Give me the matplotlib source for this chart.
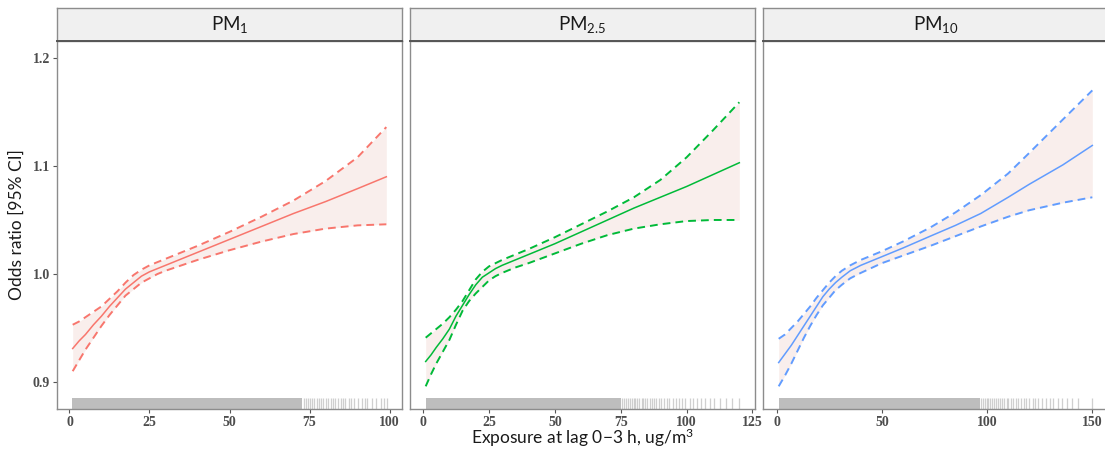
import numpy as np
import matplotlib
matplotlib.use('Agg')
import matplotlib.pyplot as plt

plt.rcParams['mathtext.fontset'] = 'custom'
plt.rcParams['mathtext.rm'] = 'Lato'
plt.rcParams['mathtext.it'] = 'Lato'

# ---- data ----
pm1_x = [1, 3, 5, 7.5, 10, 12.5, 15, 17.5, 20, 22.5, 25, 27.5, 30, 35, 40, 50, 60, 70, 80, 90, 99]
pm1_fit = [0.931, 0.938, 0.944, 0.953, 0.961, 0.970, 0.978, 0.986, 0.992, 0.998, 1.002, 1.005,
           1.008, 1.014, 1.020, 1.032, 1.044, 1.056, 1.067, 1.079, 1.090]
pm1_upper = [0.953, 0.956, 0.960, 0.965, 0.970, 0.977, 0.984, 0.992, 0.999, 1.004, 1.008, 1.011,
             1.014, 1.020, 1.026, 1.039, 1.053, 1.068, 1.086, 1.108, 1.136]
pm1_lower = [0.910, 0.920, 0.930, 0.941, 0.952, 0.962, 0.971, 0.980, 0.986, 0.992, 0.996, 1.000,
             1.003, 1.008, 1.013, 1.022, 1.030, 1.037, 1.042, 1.045, 1.046]

pm25_x = [1, 3, 5, 7.5, 10, 12.5, 15, 17.5, 20, 22.5, 25, 27.5, 30, 35, 40, 50, 60, 70, 80, 90,
          100, 110, 120]
pm25_fit = [0.919, 0.925, 0.932, 0.940, 0.949, 0.961, 0.971, 0.981, 0.990, 0.997, 1.001, 1.005,
            1.008, 1.013, 1.018, 1.028, 1.039, 1.050, 1.061, 1.071, 1.081, 1.092, 1.103]
pm25_upper = [0.941, 0.945, 0.949, 0.954, 0.960, 0.967, 0.975, 0.985, 0.995, 1.002, 1.007, 1.010,
              1.013, 1.018, 1.023, 1.034, 1.046, 1.058, 1.071, 1.087, 1.108, 1.133, 1.159]
pm25_lower = [0.896, 0.907, 0.917, 0.928, 0.939, 0.953, 0.966, 0.975, 0.982, 0.988, 0.994, 0.998,
              1.001, 1.006, 1.010, 1.019, 1.028, 1.036, 1.042, 1.046, 1.049, 1.050, 1.050]

pm10_x = [1, 4, 7, 10, 13, 16, 19, 22, 25, 28, 31, 35, 40, 50, 60, 73, 85, 97, 110, 120, 136, 150]
pm10_fit = [0.918, 0.926, 0.934, 0.943, 0.952, 0.961, 0.970, 0.979, 0.986, 0.992, 0.997, 1.003,
            1.008, 1.016, 1.024, 1.035, 1.045, 1.056, 1.071, 1.083, 1.101, 1.119]
pm10_upper = [0.940, 0.944, 0.950, 0.956, 0.963, 0.970, 0.978, 0.985, 0.992, 0.998, 1.003, 1.008,
              1.013, 1.021, 1.030, 1.043, 1.057, 1.073, 1.093, 1.112, 1.143, 1.170]
pm10_lower = [0.896, 0.906, 0.917, 0.929, 0.941, 0.952, 0.962, 0.971, 0.978, 0.985, 0.990, 0.996,
              1.001, 1.010, 1.017, 1.026, 1.035, 1.044, 1.053, 1.059, 1.066, 1.071]

# rug: dense stretch of observations + the sparse ones at the top end
pm1_rug_dense = (0.8, 72.8)
pm1_rug_sparse = [73.2, 73.8, 74.5, 75.1, 75.9, 76.4, 77.2, 77.9, 78.5, 79.3, 80.1, 80.8, 81.6,
                  82.4, 83.0, 83.9, 84.7, 85.5, 86.2, 87.4, 88.1, 89.0, 90.2, 91.5, 92.3, 93.1,
                  94.6, 95.8, 97.3, 98.2, 99.3]
pm25_rug_dense = (1.0, 75.0)
pm25_rug_sparse = [75.6, 76.3, 77.0, 77.8, 78.4, 79.1, 79.9, 80.6, 81.2, 82.0, 82.9, 83.5, 84.3,
                   85.1, 86.0, 86.8, 87.7, 88.5, 89.6, 90.4, 91.3, 92.5, 93.4, 94.7, 95.8, 97.0,
                   98.4, 99.5, 101.2, 102.6, 104.0, 105.3, 107.1, 108.9, 110.4, 112.6, 114.8,
                   117.3, 119.8]
pm10_rug_dense = (1.0, 96.5)
pm10_rug_sparse = [97.2, 98.0, 98.9, 99.8, 100.6, 101.5, 102.3, 103.4, 104.2, 105.1, 106.3, 107.0,
                   108.2, 109.4, 110.1, 111.5, 112.3, 113.6, 114.8, 116.0, 117.4, 118.7, 120.1,
                   121.6, 123.0, 124.4, 126.1, 127.9, 129.8, 131.2, 133.5, 135.7, 137.9, 140.2,
                   143.0, 150.0]

titles = [r'$\mathregular{PM_{1}}$', r'$\mathregular{PM_{2.5}}$', r'$\mathregular{PM_{10}}$']
colors = ['#F8766D', '#00BA38', '#619CFF']
xticks = [[0, 25, 50, 75, 100], [0, 25, 50, 75, 100, 125], [0, 50, 100, 150]]
yticks = [0.9, 1.0, 1.1, 1.2]

panels = [
    (pm1_x, pm1_fit, pm1_upper, pm1_lower, pm1_rug_dense, pm1_rug_sparse),
    (pm25_x, pm25_fit, pm25_upper, pm25_lower, pm25_rug_dense, pm25_rug_sparse),
    (pm10_x, pm10_fit, pm10_upper, pm10_lower, pm10_rug_dense, pm10_rug_sparse),
]

W, H = 1105, 457
fig = plt.figure(figsize=(W / 100, H / 100), dpi=100)

lefts = [57, 410, 763]
pw = 345
ax_bottom = (H - 409) / H
ax_h = 368 / H
strip_b = (H - 41) / H
strip_h = 33 / H

for i, (x, fit, up, lo, dense, sparse) in enumerate(panels):
    ax = fig.add_axes([lefts[i] / W, ax_bottom, pw / W, ax_h])
    col = colors[i]
    ax.fill_between(x, lo, up, color='#F9EEEC', lw=0, zorder=1)
    ax.plot(x, fit, color=col, lw=1.1, zorder=3, solid_joinstyle='round')
    ax.plot(x, up, color=col, lw=1.4, ls=(0, (4, 2.6)), zorder=3)
    ax.plot(x, lo, color=col, lw=1.4, ls=(0, (4, 2.6)), zorder=3)

    # rug
    ax.axvspan(dense[0], dense[1], ymin=0, ymax=0.03, color='#BDBDBD', lw=0, zorder=2)
    ax.vlines(sparse, 0, 0.03, transform=ax.get_xaxis_transform(),
              color='#C4C4C4', lw=0.9, alpha=0.8, zorder=2)

    lo_x, hi_x = min(x), max(x)
    span = hi_x - lo_x
    ax.set_xlim(lo_x - 0.05 * span, hi_x + 0.05 * span)
    ax.set_ylim(0.875, 1.2157)
    ax.set_xticks(xticks[i])
    ax.set_xticklabels([str(t) for t in xticks[i]], family='Liberation Serif',
                       fontweight='bold', fontsize=10, color='#4D4D4D')
    if i == 0:
        ax.set_yticks(yticks)
        ax.set_yticklabels(['0.9', '1.0', '1.1', '1.2'], family='Liberation Serif',
                           fontweight='bold', fontsize=10, color='#4D4D4D')
    else:
        ax.set_yticks([])
    ax.tick_params(length=3, width=0.8, color='#555555', pad=2)
    for s in ax.spines.values():
        s.set_color('#8C8C8C')
        s.set_linewidth(1.0)

    # facet strip
    sax = fig.add_axes([lefts[i] / W, strip_b, pw / W, strip_h])
    sax.set_xlim(0, 1)
    sax.set_ylim(0, 1)
    sax.set_xticks([])
    sax.set_yticks([])
    sax.set_facecolor('#F0F0F0')
    for s in sax.spines.values():
        s.set_color('#8C8C8C')
        s.set_linewidth(1.0)
    sax.spines['bottom'].set_color('#555555')
    sax.spines['bottom'].set_linewidth(1.4)
    sax.text(0.5, 0.5, titles[i], ha='center', va='center', fontsize=13.5,
             family='Lato', color='#1A1A1A')

fig.text(17 / W, 1 - 225 / H, 'Odds ratio [95% CI]', rotation=90, ha='center', va='center',
         fontsize=12.5, family='Lato', color='#1A1A1A')
fig.text(583 / W, 1 - 438 / H, r'Exposure at lag 0$-$3 h, ug/m$^{\mathregular{3}}$', ha='center',
         va='center', fontsize=12.5, family='Lato', color='#1A1A1A')

fig.savefig('out.png', dpi=100)
